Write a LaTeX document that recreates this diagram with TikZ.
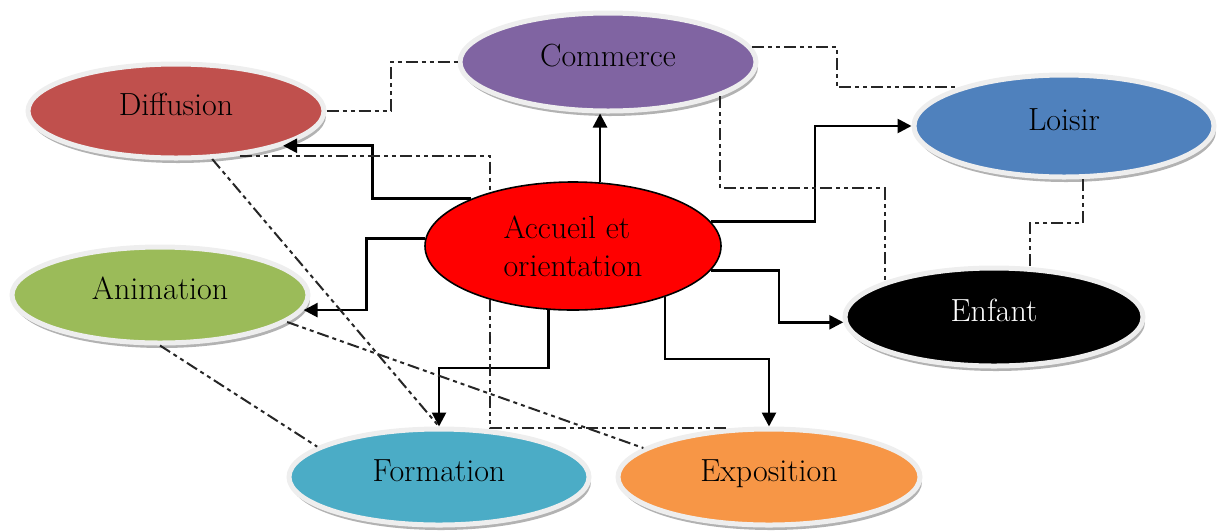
\documentclass[tikz,border=0pt]{standalone}
\usepackage{xcolor}
\usepackage{tikz}
\usetikzlibrary{arrows.meta,calc,shapes.geometric,shadows}
\definecolor{plum}{RGB}{128,100,162}
\definecolor{brick}{RGB}{192,80,77}
\definecolor{steel}{RGB}{79,129,189}
\definecolor{olive}{RGB}{155,187,89}
\definecolor{aqua}{RGB}{75,172,198}
\definecolor{apricot}{RGB}{247,150,70}
\definecolor{ring}{RGB}{238,238,238}
\tikzset{
  flow/.style={line width=1.3pt,black,-{Triangle[length=7pt,width=7pt]}},
  loose/.style={line width=1pt,black!85,
    dash pattern=on 6pt off 2pt on 2pt off 2pt on 2pt off 2pt},
  bubble/.style={ellipse,draw=ring,line width=2.5pt,inner sep=0pt,
    minimum width=148pt,minimum height=47pt,text height=11pt,text depth=7pt,
    general shadow={fill=black!30,shadow xshift=1pt,shadow yshift=-2.5pt},
    font=\fontsize{16}{19}\selectfont},
  hub/.style={ellipse,draw=black,fill=red,line width=0.8pt,inner sep=0pt,
    minimum width=148pt,minimum height=64pt,align=left,
    font=\fontsize{16}{19}\selectfont}
}

\begin{document}
\begin{tikzpicture}[x=0.5pt,y=-0.5pt]
  \useasboundingbox (0,0) rectangle (1218,531);
  \node[hub] (acc) at (573,246) {Accueil et\\orientation};
  \node[bubble,fill=plum,minimum height=49pt] (com) at (608,62) {Commerce};
  \node[bubble,fill=brick] (dif) at (176,111) {Diffusion};
  \node[bubble,fill=steel,minimum width=150pt,minimum height=51pt] (loi) at (1064,126) {Loisir};
  \node[bubble,fill=olive,minimum height=48pt] (ani) at (160,295) {Animation};
  \node[bubble,fill=black,text=white,minimum width=149pt,minimum height=49pt] (enf) at (994,317) {Enfant};
  \node[bubble,fill=aqua,minimum width=150pt,minimum height=48pt] (form) at (439,477) {Formation};
  \node[bubble,fill=apricot,minimum width=151pt,minimum height=48pt] (expo) at (769,477) {Exposition};

  \draw[flow] (acc.67) -- (acc.67 |- com.south);
  \draw[flow] (acc.155) -- ++(-99,0) |- (dif.-18);
  \draw[flow] (acc.177) -- ++(-59,0) |- (ani.-6);
  \draw[flow] (acc.249) -- ++(0,58) -| (form.north);
  \draw[flow] (acc.-29) -- ++(0,62) -| (expo.north);
  \draw[flow] (acc.-10) -- ++(68,0) |- (enf.182);
  \draw[flow] (acc.10) -- ++(104,0) |- (loi.west);

  \draw[loose] (dif.east) -- ++(64,0) |- (com.west);
  \draw[loose] (dif.-35) -| (acc.147);
  \draw[loose] (dif.-53) -- (form.north);
  \draw[loose] (ani.south) -- (form.166);
  \draw[loose] (ani.-12) -- (expo.167);
  \draw[loose] (acc.213) |- (expo.130);
  \draw[loose] (com.6) -- ++(85,0) |- (loi.160);
  \draw[loose] (com.-17) -- ++(0,92) -| (enf.162);
  \draw[loose] (loi.-70) -- ++(0,44) -| (enf.54);
\end{tikzpicture}
\end{document}
